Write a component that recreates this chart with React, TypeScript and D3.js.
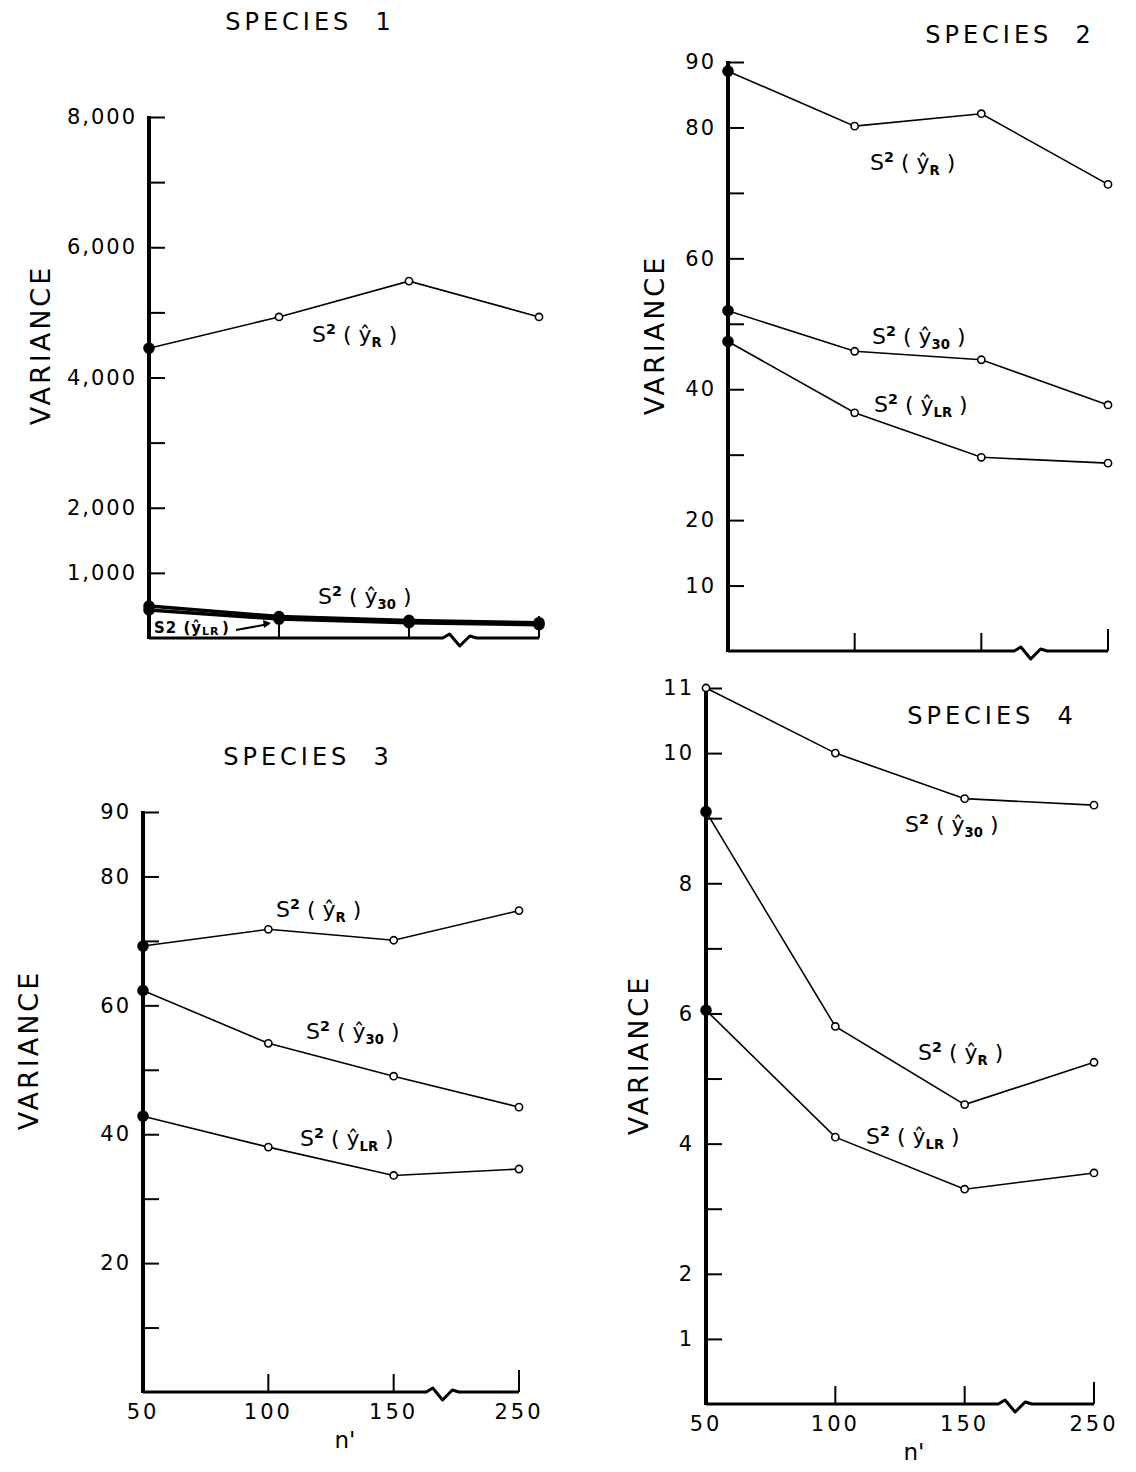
import { useEffect, useRef } from "react";
import * as d3 from "d3";

// sample size n' (broken axis between 150 and 250)
const nPrime = ["50", "100", "150", "250"];

// Species 1
const sp1R = [4450, 4930, 5480, 4930];
const sp1Y30 = [490, 330, 270, 235];
const sp1LR = [430, 290, 235, 205];
const sp1Ticks = [1000, 2000, 3000, 4000, 5000, 6000, 7000, 8000];
const sp1TickLabels = ["1,000", "2,000", "", "4,000", "", "6,000", "", "8,000"];

// Species 2
const sp2R = [88.6, 80.2, 82.1, 71.3];
const sp2Y30 = [52.0, 45.8, 44.5, 37.6];
const sp2LR = [47.3, 36.4, 29.6, 28.7];
const sp2Ticks = [10, 20, 30, 40, 50, 60, 70, 80, 90];
const sp2TickLabels = ["10", "20", "", "40", "", "60", "", "80", "90"];

// Species 3
const sp3R = [69.2, 71.8, 70.1, 74.7];
const sp3Y30 = [62.3, 54.1, 49.0, 44.2];
const sp3LR = [42.8, 38.0, 33.6, 34.6];
const sp3Ticks = [10, 20, 30, 40, 50, 60, 70, 80, 90];
const sp3TickLabels = ["", "20", "", "40", "", "60", "", "80", "90"];

// Species 4
const sp4Y30 = [11.0, 10.0, 9.3, 9.2];
const sp4R = [9.1, 5.8, 4.6, 5.25];
const sp4LR = [6.05, 4.1, 3.3, 3.55];
const sp4Ticks = [1, 2, 3, 4, 5, 6, 7, 8, 9, 10, 11];
const sp4TickLabels = ["1", "2", "", "4", "", "6", "", "8", "", "10", "11"];

const FONT = "'DejaVu Sans', 'Liberation Sans', sans-serif";

type Series = { values: number[]; sub: string; lx: number; ly: number; thick?: boolean; firstFilled: boolean; noLabel?: boolean };

type Panel = {
  title: string; tx: number; ty: number;
  vx: number; vy: number;
  x0: number; x1: number; yTop: number; yBottom: number; yMax: number;
  ticks: number[]; tickLabels: string[];
  series: Series[];
  xLabels: boolean;
};

const panels: Panel[] = [
  {
    title: "SPECIES  1", tx: 310, ty: 30, vx: 50, vy: 345,
    x0: 149, x1: 539, yTop: 117, yBottom: 638, yMax: 8000,
    ticks: sp1Ticks, tickLabels: sp1TickLabels, xLabels: false,
    series: [
      { values: sp1R, sub: "R", lx: 312, ly: 342, firstFilled: true },
      { values: sp1Y30, sub: "30", lx: 318, ly: 604, thick: true, firstFilled: true },
      { values: sp1LR, sub: "LR", lx: 0, ly: 0, thick: true, firstFilled: true, noLabel: true },
    ],
  },
  {
    title: "SPECIES  2", tx: 1010, ty: 43, vx: 664, vy: 335,
    x0: 728, x1: 1108, yTop: 62, yBottom: 651, yMax: 90,
    ticks: sp2Ticks, tickLabels: sp2TickLabels, xLabels: false,
    series: [
      { values: sp2R, sub: "R", lx: 870, ly: 170, firstFilled: true },
      { values: sp2Y30, sub: "30", lx: 872, ly: 344, firstFilled: true },
      { values: sp2LR, sub: "LR", lx: 874, ly: 412, firstFilled: true },
    ],
  },
  {
    title: "SPECIES  3", tx: 308, ty: 765, vx: 38, vy: 1050,
    x0: 143, x1: 519, yTop: 812, yBottom: 1392, yMax: 90,
    ticks: sp3Ticks, tickLabels: sp3TickLabels, xLabels: true,
    series: [
      { values: sp3R, sub: "R", lx: 276, ly: 917, firstFilled: true },
      { values: sp3Y30, sub: "30", lx: 306, ly: 1039, firstFilled: true },
      { values: sp3LR, sub: "LR", lx: 300, ly: 1146, firstFilled: true },
    ],
  },
  {
    title: "SPECIES  4", tx: 992, ty: 724, vx: 648, vy: 1055,
    x0: 706, x1: 1094, yTop: 688, yBottom: 1404, yMax: 11,
    ticks: sp4Ticks, tickLabels: sp4TickLabels, xLabels: true,
    series: [
      { values: sp4Y30, sub: "30", lx: 905, ly: 832, firstFilled: false },
      { values: sp4R, sub: "R", lx: 918, ly: 1060, firstFilled: true },
      { values: sp4LR, sub: "LR", lx: 866, ly: 1144, firstFilled: true },
    ],
  },
];

function seriesLabel(g: any, x: number, y: number, sub: string, size = 22) {
  const t = g.append("text").attr("x", x).attr("y", y)
    .attr("font-family", FONT).attr("font-size", size).attr("fill", "#000");
  t.append("tspan").text("S");
  t.append("tspan").attr("font-size", size * 0.65).attr("font-weight", "bold").attr("dy", -8).text("2");
  t.append("tspan").attr("dy", 8).text(" ( ");
  t.append("tspan").text("\u0177");
  t.append("tspan").attr("font-size", size * 0.6).attr("font-weight", "bold").attr("dy", 5).text(sub);
  t.append("tspan").attr("dy", -5).text(" )");
}

function drawPanel(svg: any, p: Panel) {
  const g = svg.append("g");
  const x = d3.scalePoint().domain(nPrime).range([p.x0, p.x1]);
  const y = d3.scaleLinear().domain([0, p.yMax]).range([p.yBottom, p.yTop]);

  // title + y title
  g.append("text").attr("x", p.tx).attr("y", p.ty).attr("text-anchor", "middle")
    .attr("font-family", FONT).attr("font-size", 24).attr("letter-spacing", 4)
    .style("white-space", "pre").text(p.title);
  g.append("text").attr("transform", `translate(${p.vx},${p.vy}) rotate(-90)`)
    .attr("text-anchor", "middle").attr("font-family", FONT).attr("font-size", 27)
    .attr("letter-spacing", 3).text("VARIANCE");

  // y axis, ticks pointing inward
  const yAxis = d3.axisLeft(y).tickValues(p.ticks)
    .tickFormat((d: any, i: number) => p.tickLabels[i])
    .tickSize(-16).tickPadding(12);
  const ga = g.append("g").attr("transform", `translate(${p.x0},0)`).call(yAxis);
  ga.select(".domain").remove();
  ga.selectAll(".tick line").attr("stroke", "#000").attr("stroke-width", 2);
  ga.selectAll(".tick text").attr("font-family", FONT).attr("font-size", 21)
    .attr("letter-spacing", 2).attr("fill", "#000");
  g.append("line").attr("x1", p.x0).attr("x2", p.x0)
    .attr("y1", y(p.yMax) - 1).attr("y2", y(0) + 1)
    .attr("stroke", "#000").attr("stroke-width", 4);

  // x baseline with a break between 150 and 250
  const base = y(0);
  const b0 = x("150")! + (x("250")! - x("150")!) * 0.26;
  const bw = (x("250")! - x("150")!) * 0.26;
  const basePts: [number, number][] = [
    [p.x0, base], [b0, base], [b0 + bw * 0.2, base - 4], [b0 + bw * 0.5, base + 8],
    [b0 + bw * 0.8, base - 2], [b0 + bw, base], [p.x1, base],
  ];
  g.append("path").attr("d", d3.line()(basePts)).attr("fill", "none")
    .attr("stroke", "#000").attr("stroke-width", 3).attr("stroke-linejoin", "round");
  nPrime.slice(1).forEach((n, i) => {
    g.append("line").attr("x1", x(n)).attr("x2", x(n))
      .attr("y1", base).attr("y2", base - (i === 2 ? 22 : 18))
      .attr("stroke", "#000").attr("stroke-width", 2);
  });
  if (p.xLabels) {
    nPrime.forEach((n) => {
      g.append("text").attr("x", x(n)).attr("y", base + 27).attr("text-anchor", "middle")
        .attr("font-family", FONT).attr("font-size", 21).attr("letter-spacing", 3).text(n);
    });
    g.append("text").attr("x", (x("100")! + x("150")!) / 2 + 14).attr("y", base + 56)
      .attr("text-anchor", "middle").attr("font-family", FONT).attr("font-size", 23).text("n'");
  }

  // series
  const line = d3.line<number>().x((d, i) => x(nPrime[i])!).y((d) => y(d));
  p.series.forEach((s) => {
    g.append("path").attr("d", line(s.values)).attr("fill", "none")
      .attr("stroke", "#000").attr("stroke-width", s.thick ? 3.5 : 1.6);
    s.values.forEach((v, i) => {
      const filled = s.thick || (i === 0 && s.firstFilled);
      g.append("circle").attr("cx", x(nPrime[i])).attr("cy", y(v))
        .attr("r", filled ? 5 : 3.6)
        .attr("fill", filled ? "#000" : "#fff").attr("stroke", "#000").attr("stroke-width", 1.6);
    });
    if (!s.noLabel) seriesLabel(g, s.lx, s.ly, s.sub);
  });
}

export default function App() {
  const svgRef = useRef<SVGSVGElement>(null);

  useEffect(() => {
    const svg = d3.select(svgRef.current);
    svg.selectAll("*").remove();
    svg.append("rect").attr("width", 1136).attr("height", 1472).attr("fill", "#fff");
    panels.forEach((p) => drawPanel(svg, p));

    // boxed S2(yLR) note in species 1
    const x1 = d3.scalePoint().domain(nPrime).range([149, 539]);
    const note = svg.append("g");
    note.append("text").attr("x", 154).attr("y", 633).attr("font-family", FONT)
      .attr("font-size", 15).attr("font-weight", "bold").attr("letter-spacing", 1)
      .text("S2 (\u0177")
      .append("tspan").attr("font-size", 11).attr("dy", 2).text("LR");
    note.append("text").attr("x", 222).attr("y", 633).attr("font-family", FONT)
      .attr("font-size", 15).attr("font-weight", "bold").text(")");
    note.append("line").attr("x1", 236).attr("y1", 630).attr("x2", x1("100")! - 10).attr("y2", 624)
      .attr("stroke", "#000").attr("stroke-width", 2);
    note.append("path").attr("d", `M${x1("100")! - 16},620 L${x1("100")! - 8},623 L${x1("100")! - 15},628 Z`)
      .attr("fill", "#000");
  }, []);

  return (
    <svg ref={svgRef} width={1136} height={1472}
      style={{ position: "absolute", left: 0, top: 0 }} />
  );
}
